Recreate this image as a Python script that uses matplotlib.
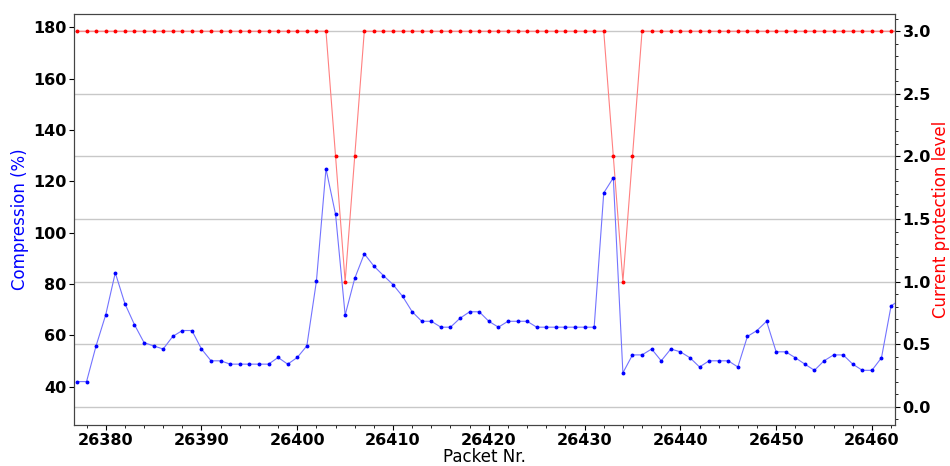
import matplotlib
matplotlib.use("Agg")
import matplotlib.pyplot as plt
from matplotlib.ticker import MultipleLocator

# packet numbers and per-packet values
packets = list(range(26377, 26464))
compression = [
    42, 42, 56, 68, 84.4, 72.4, 64.2, 57.2, 55.9, 54.7,
    59.6, 61.9, 61.9, 54.7, 50.1, 50.1, 48.8, 48.8, 48.8, 48.8,
    48.8, 51.4, 48.8, 51.4, 55.9, 81.1, 124.9, 107.1, 67.9, 82.2,
    91.8, 87, 83.3, 79.8, 75.2, 69.2, 65.5, 65.5, 63.2, 63.2,
    66.7, 69.2, 69.2, 65.5, 63.2, 65.5, 65.5, 65.5, 63.2, 63.2,
    63.2, 63.2, 63.2, 63.2, 63.2, 115.5, 121.4, 45.4, 52.4, 52.4,
    54.7, 50.1, 54.7, 53.6, 51.3, 47.7, 50.1, 50.1, 50.1, 47.7,
    59.6, 61.9, 65.5, 53.6, 53.6, 51.3, 48.8, 46.4, 50.1, 52.4,
    52.4, 48.8, 46.4, 46.4, 51.3, 71.5, 74,
]
protection = [3] * 27 + [2, 1, 2] + [3] * 26 + [2, 1, 2] + [3] * 28

fig, ax = plt.subplots(figsize=(9.5, 4.66), dpi=100)
fig.subplots_adjust(left=0.078, right=0.942, top=0.970, bottom=0.088)
ax2 = ax.twinx()

ax.plot(packets, compression, color=(0.45, 0.45, 1.0), lw=0.8, zorder=3)
ax.plot(packets, compression, ls="none", marker="o", ms=1.8, color="blue", zorder=4)
ax2.plot(packets, protection, color=(1.0, 0.5, 0.5), lw=0.8)
ax2.plot(packets, protection, ls="none", marker="o", ms=1.8, color="red")

ax.set_xlim(26376.7, 26462.4)
ax.set_ylim(25.1, 185.2)
ax2.set_ylim(-0.146, 3.138)

ax.set_yticks(range(40, 181, 20))
ax.xaxis.set_major_locator(MultipleLocator(10))
ax.xaxis.set_minor_locator(MultipleLocator(2))
ax2.yaxis.set_major_locator(MultipleLocator(0.5))
ax2.yaxis.set_minor_locator(MultipleLocator(0.1))
ax2.yaxis.set_major_formatter(plt.FormatStrFormatter("%.1f"))
ax2.grid(True, axis="y", color="#c8c8c8", lw=1)
ax2.set_axisbelow(True)

for a in (ax, ax2):
    a.tick_params(pad=2)
    for lab in a.get_xticklabels() + a.get_yticklabels():
        lab.set_fontweight("bold")
        lab.set_fontsize(11.5)
    for s in a.spines.values():
        s.set_color("#444444")

ax.set_xlabel("Packet Nr.", fontsize=12, labelpad=0)
ax.set_ylabel("Compression (%)", color="blue", fontsize=12, labelpad=3)
ax2.set_ylabel("Current protection level", color="red", fontsize=12, labelpad=1)

# draw the compression axes above the twin so its line sits on top
ax.set_zorder(ax2.get_zorder() + 1)
ax.patch.set_visible(False)

fig.savefig("out.png", dpi=100)
